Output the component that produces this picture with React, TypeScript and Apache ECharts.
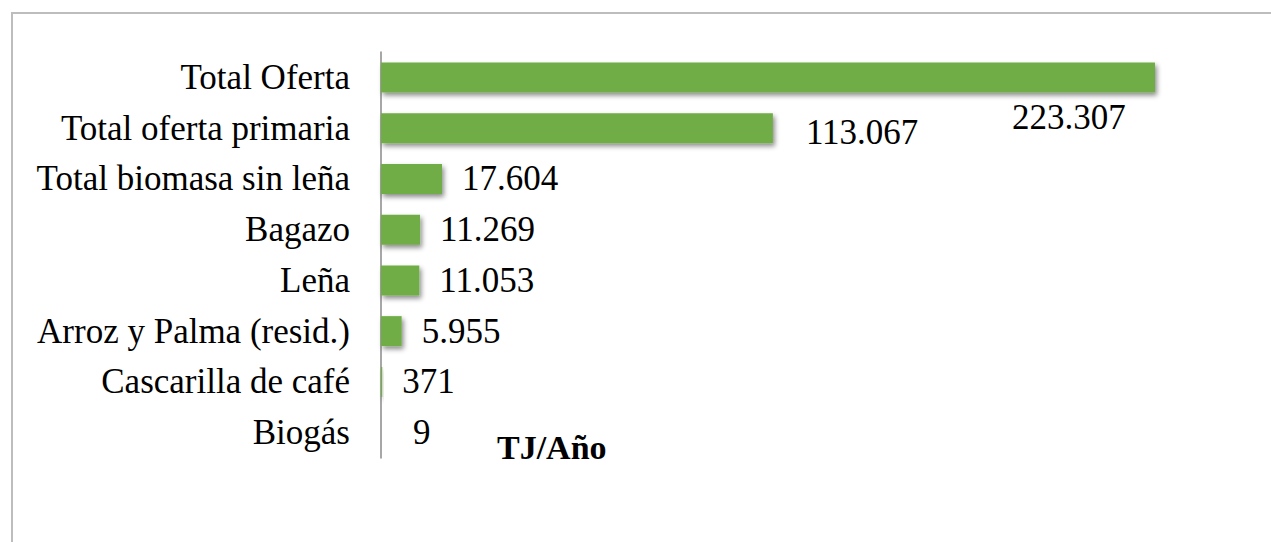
import React, { useEffect, useRef } from "react";
import * as echarts from "echarts";

const categories = [
  "Total Oferta",
  "Total oferta primaria",
  "Total biomasa sin leña",
  "Bagazo",
  "Leña",
  "Arroz y Palma (resid.)",
  "Cascarilla de café",
  "Biogás",
];
const values = [223307, 113067, 17604, 11269, 11053, 5955, 371, 9];
const unitLabel = "TJ/Año";

const FONT = "Liberation Serif";

function fmt(v: number): string {
  return String(v).replace(/\B(?=(\d{3})+(?!\d))/g, ".");
}

export default function App() {
  const ref = useRef<HTMLDivElement>(null);
  useEffect(() => {
    if (!ref.current) return;
    const chart = echarts.init(ref.current, undefined, { renderer: "svg" });
    const labelOverrides: Record<number, any> = {
      0: { offset: [-163, 40] },
      1: { distance: 33, offset: [0, 4] },
      7: { distance: 32 },
    };
    const data = values.map((v, i) => ({
      value: v,
      label: labelOverrides[i] || {},
    }));
    chart.setOption({
      animation: false,
      backgroundColor: "#ffffff",
      textStyle: { fontFamily: FONT },
      grid: { left: 381, top: 52, width: 866.5, height: 406, containLabel: false },
      xAxis: { type: "value", min: 0, max: 250000, show: false },
      yAxis: {
        type: "category",
        data: categories,
        inverse: true,
        axisLine: { show: true, lineStyle: { color: "#8a8a8a", width: 1.5 } },
        axisTick: { show: false },
        axisLabel: {
          margin: 31,
          color: "#000",
          fontFamily: FONT,
          fontSize: 35,
        },
      },
      series: [
        {
          type: "bar",
          data,
          barWidth: 30,
          itemStyle: {
            color: "#70AD47",
            shadowBlur: 5,
            shadowOffsetX: 2,
            shadowOffsetY: 3,
            shadowColor: "rgba(0,0,0,0.45)",
          },
          label: {
            show: true,
            position: "right",
            distance: 20,
            color: "#000",
            fontFamily: FONT,
            fontSize: 35,
            formatter: (p: any) => fmt(p.value),
          },
        },
      ],
      graphic: [
        {
          type: "rect",
          shape: { x: 12, y: 13, width: 1300, height: 600 },
          style: { fill: "none", stroke: "#bdbdbd", lineWidth: 2 },
          z: -1,
        },
        {
          type: "text",
          x: 497,
          y: 447,
          style: {
            text: unitLabel,
            fontFamily: FONT,
            fontSize: 34,
            fontWeight: "bold",
            fill: "#000",
            verticalAlign: "middle",
          },
        },
      ],
    });
    return () => chart.dispose();
  }, []);
  return (
    <div
      ref={ref}
      style={{ position: "fixed", left: 0, top: 0, width: 1271, height: 542 }}
    />
  );
}
